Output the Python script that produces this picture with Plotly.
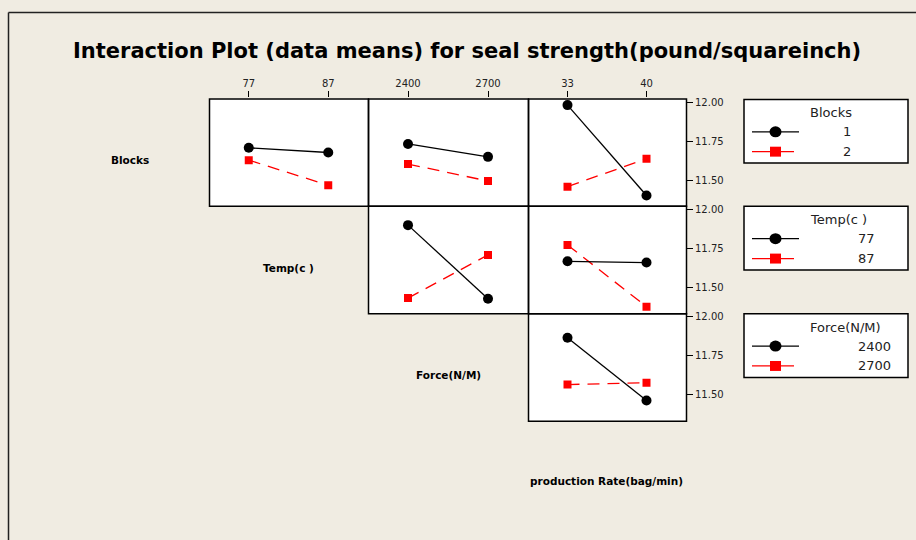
import plotly.graph_objects as go

W, H = 916, 540

# factor names and their two levels
factor_names = ["Blocks", "Temp(c )", "Force(N/M)", "production Rate(bag/min)"]
blocks_levels = ["1", "2"]
temp_levels = ["77", "87"]
force_levels = ["2400", "2700"]
rate_levels = ["33", "40"]

# seal strength means: one list per level of the row factor, across the column factor levels
blocks1_by_temp = [11.709, 11.679]
blocks2_by_temp = [11.630, 11.469]
blocks1_by_force = [11.734, 11.651]
blocks2_by_force = [11.605, 11.496]
blocks1_by_rate = [11.983, 11.403]
blocks2_by_rate = [11.460, 11.639]
temp77_by_force = [11.902, 11.430]
temp87_by_force = [11.434, 11.711]
temp77_by_rate = [11.670, 11.662]
temp87_by_rate = [11.775, 11.379]
force2400_by_rate = [11.862, 11.460]
force2700_by_rate = [11.562, 11.573]

y_tick_values = [11.50, 11.75, 12.00]

BG = "#f0ece2"
FONT = "DejaVu Sans"


def fx(x):
    return x / W


def fy(y):
    return 1 - y / H


row_px = [(96, 204), (204, 312), (312, 420)]
col_px = [(209, 368), (368, 528), (528, 686)]
row_ranges = [[11.3367, 12.0255], [11.3367, 12.0255], [11.3302, 12.0190]]

# (row, col, column levels, first-level means, second-level means)
panels = [
    (0, 0, temp_levels, blocks1_by_temp, blocks2_by_temp),
    (0, 1, force_levels, blocks1_by_force, blocks2_by_force),
    (0, 2, rate_levels, blocks1_by_rate, blocks2_by_rate),
    (1, 1, force_levels, temp77_by_force, temp87_by_force),
    (1, 2, rate_levels, temp77_by_rate, temp87_by_rate),
    (2, 2, rate_levels, force2400_by_rate, force2700_by_rate),
]

fig = go.Figure()
layout = {}
shapes = []
annotations = []

for i, (r, c, xlev, s1, s2) in enumerate(panels):
    n = i + 1
    xa = "x" if n == 1 else f"x{n}"
    ya = "y" if n == 1 else f"y{n}"
    xkey = "xaxis" if n == 1 else f"xaxis{n}"
    ykey = "yaxis" if n == 1 else f"yaxis{n}"
    x0, x1 = col_px[c]
    y0, y1 = row_px[r]
    layout[xkey] = dict(
        domain=[fx(x0), fx(x1)], anchor=ya, type="category",
        range=[-0.5, 1.5], categoryorder="array", categoryarray=xlev,
        showgrid=False, zeroline=False, showline=False,
        side="top",
        ticks="outside" if r == 0 else "", ticklen=6, tickcolor="black", tickwidth=1.2,
        showticklabels=(r == 0),
        tickfont=dict(family=FONT, size=10, color="#222"),
        fixedrange=True,
    )
    layout[ykey] = dict(
        domain=[fy(y1), fy(y0)], anchor=xa, range=row_ranges[r],
        showgrid=False, zeroline=False, showline=False,
        side="right",
        tickvals=y_tick_values if c == 2 else [],
        tickformat=".2f",
        ticks="outside" if c == 2 else "", ticklen=6, tickcolor="black", tickwidth=1.2,
        showticklabels=(c == 2),
        tickfont=dict(family=FONT, size=10, color="#222"),
        fixedrange=True,
    )
    # panel frame drawn on exact pixel edges so shared borders coincide
    shapes.append(dict(type="rect", xref="paper", yref="paper",
                       x0=fx(x0 + 0.5), x1=fx(x1 + 0.5), y0=fy(y0 + 0.5), y1=fy(y1 + 0.5),
                       line=dict(color="black", width=1.5), layer="above"))
    fig.add_trace(go.Scatter(
        x=xlev, y=s2, xaxis=xa, yaxis=ya, mode="lines+markers",
        line=dict(color="red", width=1.3, dash="12px,8px"),
        marker=dict(symbol="square", size=8, color="red"),
        showlegend=False, hoverinfo="skip",
    ))
    fig.add_trace(go.Scatter(
        x=xlev, y=s1, xaxis=xa, yaxis=ya, mode="lines+markers",
        line=dict(color="black", width=1.3),
        marker=dict(symbol="circle", size=10, color="black"),
        showlegend=False, hoverinfo="skip",
    ))

# outer frame (top and left edges)
shapes.append(dict(type="line", xref="paper", yref="paper",
                   x0=fx(8.5), x1=fx(916), y0=fy(9.5), y1=fy(9.5),
                   line=dict(color="#222", width=1.5)))
shapes.append(dict(type="line", xref="paper", yref="paper",
                   x0=fx(8.5), x1=fx(8.5), y0=fy(9.5), y1=fy(540),
                   line=dict(color="#222", width=1.5)))

# title
annotations.append(dict(
    text="Interaction Plot (data means) for seal strength(pound/squareinch)",
    x=fx(467), y=fy(48), xref="paper", yref="paper",
    xanchor="center", yanchor="middle", showarrow=False,
    font=dict(family=FONT, size=21, color="black", weight="bold"),
))

# factor labels along the diagonal
label_pos = [(130, 158), (288, 266), (448, 374), (606, 481)]
for name, (lx, ly) in zip(factor_names, label_pos):
    annotations.append(dict(
        text=name, x=fx(lx), y=fy(ly), xref="paper", yref="paper",
        xanchor="center", yanchor="middle", showarrow=False,
        font=dict(family=FONT, size=10.5, color="black", weight="bold"),
    ))

# legend boxes, one for each row factor
legend_specs = [
    (97, factor_names[0], blocks_levels, 853),
    (204.5, factor_names[1], temp_levels, 877),
    (312.5, factor_names[2], force_levels, 893),
]
for top, title, levels, val_right in legend_specs:
    shapes.append(dict(type="rect", xref="paper", yref="paper",
                       x0=fx(744), x1=fx(908), y0=fy(top), y1=fy(top + 64),
                       line=dict(color="black", width=1.5), fillcolor="white"))
    annotations.append(dict(
        text=title, x=fx(808), y=fy(top + 13.5), xref="paper", yref="paper",
        xanchor="left", yanchor="middle", showarrow=False,
        font=dict(family=FONT, size=13, color="#222"),
    ))
    for k, lev in enumerate(levels):
        ey = top + 32.5 + 20 * k
        color = "black" if k == 0 else "red"
        shapes.append(dict(type="line", xref="paper", yref="paper",
                           x0=fx(752), x1=fx(799 if k == 0 else 794),
                           y0=fy(ey), y1=fy(ey),
                           line=dict(color=color, width=1.3)))
        if k == 0:
            shapes.append(dict(type="circle", xref="paper", yref="paper",
                               x0=fx(769.5), x1=fx(781.5), y0=fy(ey - 5.5), y1=fy(ey + 5.5),
                               line=dict(color="black", width=0), fillcolor="black"))
        else:
            shapes.append(dict(type="rect", xref="paper", yref="paper",
                               x0=fx(770), x1=fx(781), y0=fy(ey - 5), y1=fy(ey + 5),
                               line=dict(color="red", width=0), fillcolor="red"))
        annotations.append(dict(
            text=lev, x=fx(val_right), y=fy(ey), xref="paper", yref="paper",
            xanchor="right", yanchor="middle", showarrow=False,
            font=dict(family=FONT, size=13, color="#222"),
        ))

fig.update_layout(
    width=W, height=H,
    margin=dict(l=0, r=0, t=0, b=0),
    paper_bgcolor=BG, plot_bgcolor="white",
    shapes=shapes, annotations=annotations,
    showlegend=False,
    **layout,
)

fig.write_html("out.html", config={"displayModeBar": False})
